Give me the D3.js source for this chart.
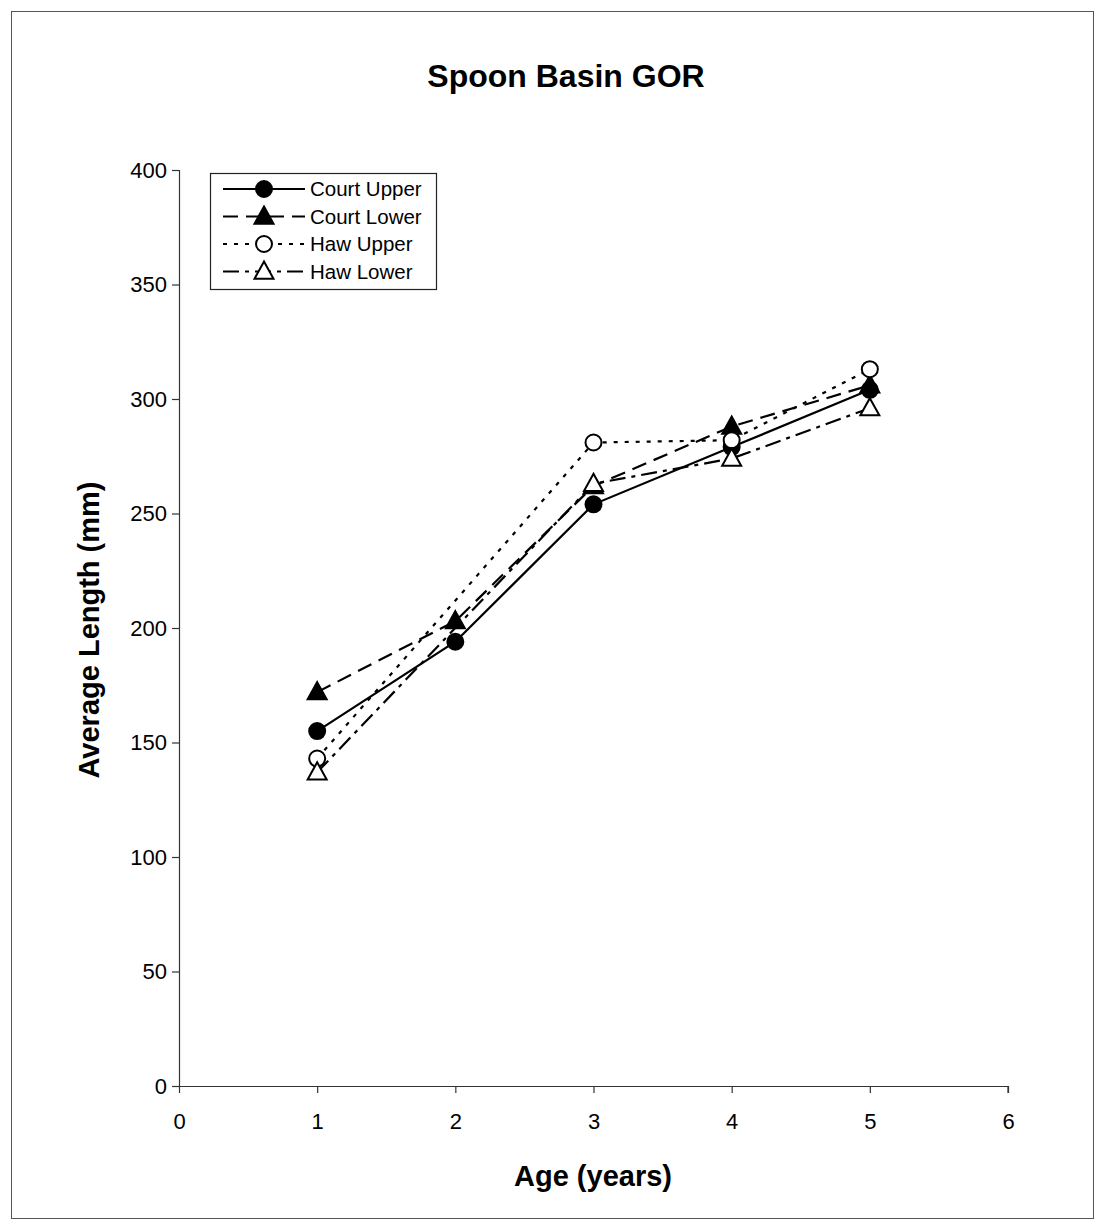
<!DOCTYPE html>
<html>
<head>
<meta charset="utf-8">
<script src="https://cdn.jsdelivr.net/npm/d3@7"></script>
<style>
  body { margin: 0; background: #fff; }
  svg { display: block; font-family: "Liberation Sans", Arial, sans-serif; }
</style>
</head>
<body>
<svg id="chart" width="1109" height="1225"></svg>
<script>
// Mean length at age for each reach of the Spoon basin
const ages = [1, 2, 3, 4, 5];
const courtUpper = [155, 194, 254, 279, 304];
const courtLower = [172, 203, 262, 288, 306];
const hawUpper   = [143, null, 281, 282, 313];
const hawLower   = [137, null, 263, 274, 296];
const seriesNames = ["Court Upper", "Court Lower", "Haw Upper", "Haw Lower"];
const xTicks = [0, 1, 2, 3, 4, 5, 6];
const yTicks = [0, 50, 100, 150, 200, 250, 300, 350, 400];

const series = [
  { name: seriesNames[0], values: courtUpper, dash: null,          marker: "circle",   filled: true  },
  { name: seriesNames[1], values: courtLower, dash: "15,8",        marker: "triangle", filled: true  },
  { name: seriesNames[2], values: hawUpper,   dash: "4,7",         marker: "circle",   filled: false },
  { name: seriesNames[3], values: hawLower,   dash: "16,6,4,6",    marker: "triangle", filled: false }
];

const svg = d3.select("#chart");

// outer frame
svg.append("rect")
  .attr("x", 11.5).attr("y", 11.5).attr("width", 1082).attr("height", 1207)
  .attr("fill", "none").attr("stroke", "#555").attr("stroke-width", 1);

const plot = { left: 179, right: 1008, top: 170, bottom: 1086 };
const x = d3.scaleLinear().domain([0, 6]).range([plot.left, plot.right]);
const y = d3.scaleLinear().domain([0, 400]).range([plot.bottom, plot.top]);

// title
svg.append("text")
  .attr("x", 566).attr("y", 87)
  .attr("text-anchor", "middle")
  .attr("font-size", 32).attr("font-weight", "bold")
  .text("Spoon Basin GOR");

// axes
const yAxis = d3.axisLeft(y).tickValues(yTicks).tickSize(7).tickPadding(5).tickFormat(d3.format("d"));
const xAxis = d3.axisBottom(x).tickValues(xTicks).tickSize(7).tickPadding(20).tickFormat(d3.format("d"));

const gy = svg.append("g").attr("transform", `translate(${plot.left},0)`).call(yAxis);
const gx = svg.append("g").attr("transform", `translate(0,${plot.bottom})`).call(xAxis);
[gx, gy].forEach(g => {
  g.select(".domain").attr("stroke", "#333").attr("stroke-width", 1.2);
  g.selectAll(".tick line").attr("stroke", "#333").attr("stroke-width", 1.2);
  g.selectAll(".tick text").attr("font-size", 22).attr("fill", "#000")
    .attr("font-family", "'Liberation Sans', Arial, sans-serif");
});
gx.select(".domain").attr("d", `M${plot.left},0.5H${plot.right}V7`);
gy.select(".domain").attr("d", `M0.5,${plot.top}V${plot.bottom}`);

// axis titles
svg.append("text")
  .attr("x", 593).attr("y", 1186)
  .attr("text-anchor", "middle")
  .attr("font-size", 29).attr("font-weight", "bold")
  .text("Age (years)");

svg.append("text")
  .attr("transform", `translate(99,630) rotate(-90)`)
  .attr("text-anchor", "middle")
  .attr("font-size", 29).attr("font-weight", "bold")
  .text("Average Length (mm)");

// markers
const triPath = s => `M0,${-s}L${s * 0.95},${s * 0.72}L${-s * 0.95},${s * 0.72}Z`;
function drawMarker(g, s, cx, cy) {
  if (s.marker === "circle") {
    g.append("circle").attr("cx", cx).attr("cy", cy).attr("r", 8)
      .attr("fill", s.filled ? "#000" : "#fff").attr("stroke", "#000").attr("stroke-width", 2);
  } else {
    g.append("path").attr("d", triPath(10)).attr("transform", `translate(${cx},${cy})`)
      .attr("fill", s.filled ? "#000" : "#fff").attr("stroke", "#000").attr("stroke-width", 2);
  }
}

const line = d3.line()
  .x(d => x(d.a)).y(d => y(d.v));

const linesG = svg.append("g");
const marksG = svg.append("g");
series.forEach(s => {
  const pts = ages.map((a, i) => ({ a, v: s.values[i] })).filter(d => d.v !== null);
  linesG.append("path")
    .datum(pts)
    .attr("d", line)
    .attr("fill", "none")
    .attr("stroke", "#000")
    .attr("stroke-width", 2.2)
    .attr("stroke-dasharray", s.dash);
});
series.forEach(s => {
  const g = marksG.append("g");
  ages.forEach((a, i) => {
    if (s.values[i] !== null) drawMarker(g, s, x(a), y(s.values[i]));
  });
});

// legend
const legend = svg.append("g");
legend.append("rect")
  .attr("x", 210.5).attr("y", 173.5).attr("width", 226).attr("height", 116)
  .attr("fill", "#fff").attr("stroke", "#222").attr("stroke-width", 1.2);
series.forEach((s, i) => {
  const ly = 189 + i * 27.5;
  legend.append("line")
    .attr("x1", 223).attr("x2", 305).attr("y1", ly).attr("y2", ly)
    .attr("stroke", "#000").attr("stroke-width", 2.2)
    .attr("stroke-dasharray", s.dash);
  drawMarker(legend, s, 264, ly);
  legend.append("text")
    .attr("x", 310).attr("y", ly + 7)
    .attr("font-size", 20.5)
    .text(s.name);
});
</script>
</body>
</html>
